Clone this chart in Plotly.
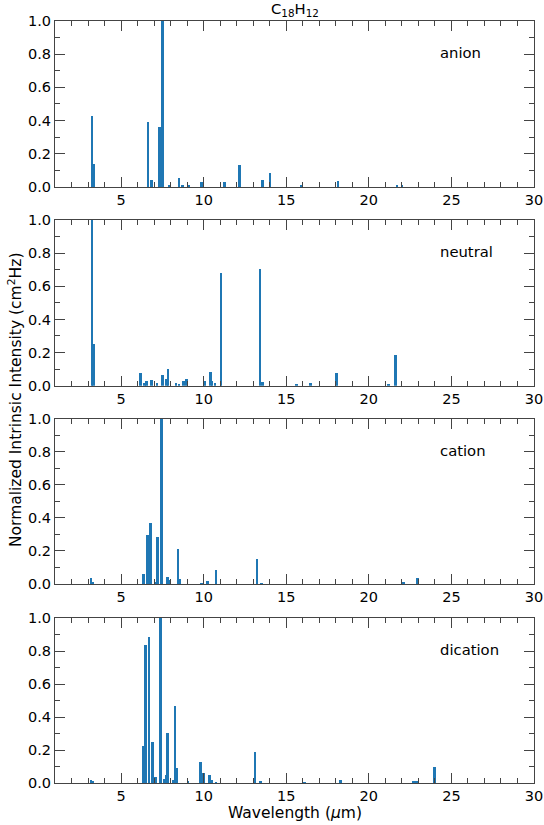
import plotly.graph_objects as go

# ---- data (wavelength in micron, normalized intensity) ----
anion_x = [3.25, 3.35, 6.63, 6.83, 7.31, 7.52, 7.90, 8.50, 8.70, 9.10, 9.86, 11.27, 12.18, 13.58, 14.02, 15.90, 18.14, 21.70, 22.00]
anion_y = [0.43, 0.14, 0.39, 0.04, 0.36, 1.00, 0.01, 0.057, 0.01, 0.01, 0.03, 0.03, 0.13, 0.04, 0.087, 0.006, 0.036, 0.01, 0.008]

neutral_x = [3.23, 3.33, 6.18, 6.42, 6.55, 6.83, 7.17, 7.50, 7.74, 7.84, 8.32, 8.50, 8.77, 8.97, 10.06, 10.42, 10.50, 10.69, 11.05, 13.41, 13.58, 15.62, 16.47, 18.04, 21.20, 21.60]
neutral_y = [1.00, 0.25, 0.078, 0.014, 0.026, 0.034, 0.016, 0.066, 0.038, 0.099, 0.018, 0.01, 0.028, 0.038, 0.03, 0.085, 0.026, 0.014, 0.678, 0.702, 0.02, 0.012, 0.016, 0.074, 0.01, 0.187]

cation_x = [3.19, 3.27, 6.34, 6.60, 6.79, 7.05, 7.21, 7.45, 7.80, 7.90, 8.44, 8.52, 9.86, 10.22, 10.75, 13.23, 13.50, 22.08, 22.95]
cation_y = [0.034, 0.01, 0.059, 0.297, 0.372, 0.01, 0.283, 1.00, 0.04, 0.024, 0.212, 0.03, 0.005, 0.016, 0.085, 0.152, 0.005, 0.012, 0.038]

dication_x = [3.19, 3.27, 6.36, 6.48, 6.69, 6.91, 7.00, 7.10, 7.39, 7.60, 7.73, 7.82, 8.14, 8.26, 8.38, 9.05, 9.80, 9.98, 10.36, 10.46, 10.75, 13.11, 13.45, 16.10, 18.30, 22.70, 22.90, 23.96]
dication_y = [0.016, 0.01, 0.222, 0.836, 0.885, 0.246, 0.036, 0.036, 1.00, 0.024, 0.05, 0.30, 0.016, 0.469, 0.089, 0.012, 0.129, 0.06, 0.048, 0.02, 0.004, 0.19, 0.012, 0.004, 0.02, 0.006, 0.006, 0.096]

labels = ["anion", "neutral", "cation", "dication"]
series = [(anion_x, anion_y), (neutral_x, neutral_y), (cation_x, cation_y), (dication_x, dication_y)]
x_ticks = [5, 10, 15, 20, 25, 30]
y_ticks = [0.0, 0.2, 0.4, 0.6, 0.8, 1.0]
y_ticklabels = ["0.0", "0.2", "0.4", "0.6", "0.8", "1.0"]

domains = [(0.7822, 1.0), (0.5214, 0.7388), (0.2612, 0.4777), (0.0, 0.2165)]

FONT = "DejaVu Sans"
AX = "#444444"
BAR = "#1f77b4"
TICKFS = 14.5
TEXTFS = 14.8
TITLEFS = 15.5

fig = go.Figure()
layout = dict(
    width=544, height=825,
    margin=dict(l=55, r=10, t=21, b=42, autoexpand=False),
    plot_bgcolor="white", paper_bgcolor="white",
    showlegend=False,
    font=dict(family=FONT, size=TICKFS, color="black"),
    bargap=0,
)

for i, ((xs, ys), lab, dom) in enumerate(zip(series, labels, domains)):
    n = "" if i == 0 else str(i + 1)
    xa = "x" + n
    ya = "y" + n
    fig.add_trace(go.Bar(x=xs, y=ys, width=0.16, marker=dict(color=BAR, line=dict(width=0)),
                         xaxis=xa, yaxis=ya, hoverinfo="skip"))
    layout["xaxis" + n] = dict(
        domain=[0, 1], anchor=ya, range=[1, 30], automargin=False,
        tickmode="array", tickvals=x_ticks, ticktext=[str(t) for t in x_ticks],
        ticks="inside", ticklen=10, tickwidth=1, tickcolor=AX,
        minor=dict(ticks="inside", ticklen=5, tickwidth=1, tickcolor=AX, dtick=1, tick0=0, showgrid=False),
        showline=True, linecolor=AX, linewidth=1, mirror="ticks",
        showgrid=False, zeroline=False,
        tickfont=dict(family=FONT, size=TICKFS, color="black"),
    )
    layout["yaxis" + n] = dict(
        domain=list(dom), anchor=xa, range=[0, 1], automargin=False,
        tickmode="array", tickvals=y_ticks, ticktext=y_ticklabels,
        ticks="inside", ticklen=10, tickwidth=1, tickcolor=AX,
        minor=dict(ticks="inside", ticklen=5, tickwidth=1, tickcolor=AX, dtick=0.1, tick0=0, showgrid=False),
        showline=True, linecolor=AX, linewidth=1, mirror="ticks",
        showgrid=False, zeroline=False,
        tickfont=dict(family=FONT, size=TICKFS, color="black"),
    )

fig.update_layout(**layout)

ann = []
for i, lab in enumerate(labels):
    n = "" if i == 0 else str(i + 1)
    ann.append(dict(text=lab, x=0.8, y=0.81, xref="x" + n + " domain", yref="y" + n + " domain",
                    xanchor="left", yanchor="middle", showarrow=False,
                    font=dict(family=FONT, size=TEXTFS, color="black")))
ann.append(dict(text="C<sub>18</sub>H<sub>12</sub>", x=0.5, y=1.0, xref="paper", yref="paper",
                xanchor="center", yanchor="bottom", yshift=0, showarrow=False,
                font=dict(family=FONT, size=TEXTFS, color="black")))
ann.append(dict(text="Normalized Intrinsic Intensity (cm<sup>2</sup>Hz)", x=-0.0835, y=0.5026,
                xref="paper", yref="paper", xanchor="center", yanchor="middle", textangle=-90,
                showarrow=False, font=dict(family=FONT, size=TITLEFS, color="black")))
ann.append(dict(text="Wavelength (<i>μ</i>m)", x=0.5, y=-0.0395, xref="paper", yref="paper",
                xanchor="center", yanchor="middle", showarrow=False,
                font=dict(family=FONT, size=TITLEFS, color="black")))
fig.update_layout(annotations=ann)

fig.write_html("out.html", config={"displayModeBar": False},
               post_script="document.body.style.margin='0';document.body.style.overflow='hidden';")
